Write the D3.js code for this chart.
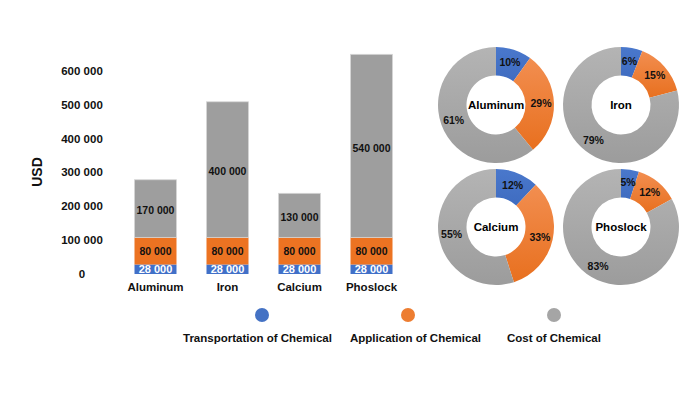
<!DOCTYPE html>
<html>
<head>
<meta charset="utf-8">
<script src="https://cdn.jsdelivr.net/npm/d3@7"></script>
<style>
  body { margin: 0; background: #fff; }
  text { font-family: "Liberation Sans", Arial, sans-serif; font-weight: bold; }
</style>
</head>
<body>
<div id="chart"></div>
<script>
const materials = ["Aluminum", "Iron", "Calcium", "Phoslock"];
const transportCost = [28000, 28000, 28000, 28000];
const applicationCost = [80000, 80000, 80000, 80000];
const chemicalCost = [170000, 400000, 130000, 540000];
const yTicks = [0, 100000, 200000, 300000, 400000, 500000, 600000];

const transportPct = [10, 6, 12, 5];
const applicationPct = [29, 15, 33, 12];
const chemicalPct = [61, 79, 55, 83];

const seriesNames = ["Transportation of Chemical", "Application of Chemical", "Cost of Chemical"];
const seriesColors = ["#4472C4", "#ED7D31", "#A5A5A5"];

const width = 700, height = 393;

const svg = d3.select("#chart")
  .append("svg")
  .attr("width", width)
  .attr("height", height);

const fmt = v => d3.format(",")(v).replace(/,/g, " ");

// =========================
// STACKED BARS
// =========================
const rows = materials.map((m, i) => ({
  material: m,
  transport: transportCost[i],
  application: applicationCost[i],
  chemical: chemicalCost[i]
}));
const keys = ["transport", "application", "chemical"];
const stacked = d3.stack().keys(keys)(rows);

const x = d3.scaleBand()
  .domain(materials)
  .range([119.5, 407.5])
  .paddingInner(0.4167)
  .paddingOuter(0.2083);

const y = d3.scaleLinear()
  .domain([0, 600000])
  .range([274, 70.6]);

const barFill = ["#4170C8", "#EC7322", "#9E9E9E"];

const bars = svg.append("g");
stacked.forEach((layer, li) => {
  bars.append("g")
    .selectAll("rect")
    .data(layer)
    .join("rect")
    .attr("x", d => x(d.data.material))
    .attr("y", d => y(d[1]))
    .attr("width", x.bandwidth())
    .attr("height", d => y(d[0]) - y(d[1]))
    .attr("fill", barFill[li])
    .attr("stroke", li === 2 ? "#d6d6d6" : "none")
    .attr("stroke-width", 0.8);
});

stacked.forEach((layer, li) => {
  bars.append("g")
    .selectAll("text")
    .data(layer)
    .join("text")
    .attr("x", d => x(d.data.material) + x.bandwidth() / 2)
    .attr("y", d => (y(d[0]) + y(d[1])) / 2 + (li === 2 ? 2 : 0))
    .attr("dy", "0.36em")
    .attr("text-anchor", "middle")
    .style("font-size", li === 0 ? "11px" : "10.5px")
    .style("fill", li === 0 ? "#fff" : "#111")
    .text(d => fmt(d[1] - d[0]));
});

// =========================
// AXES
// =========================
svg.append("g")
  .selectAll("text")
  .data(yTicks)
  .join("text")
  .attr("x", 82)
  .attr("y", d => y(d))
  .attr("dy", "0.36em")
  .attr("text-anchor", "middle")
  .style("font-size", "11.5px")
  .style("fill", "#111")
  .text(d => fmt(d));

svg.append("g")
  .selectAll("text")
  .data(materials)
  .join("text")
  .attr("x", d => x(d) + x.bandwidth() / 2)
  .attr("y", 287)
  .attr("dy", "0.36em")
  .attr("text-anchor", "middle")
  .style("font-size", "11.5px")
  .style("fill", "#111")
  .text(d => d);

svg.append("text")
  .attr("transform", "translate(37,172) rotate(-90)")
  .attr("dy", "0.36em")
  .attr("text-anchor", "middle")
  .style("font-size", "14px")
  .style("fill", "#111")
  .text("USD");

// =========================
// DONUTS
// =========================
const defs = svg.append("defs");
const gradStops = [
  ["#4a78cc", "#3f6cc0"],
  ["#F28E50", "#E8701F"],
  ["#B4B4B4", "#9C9C9C"]
];
gradStops.forEach((g, i) => {
  const grad = defs.append("linearGradient")
    .attr("id", "ring-grad-" + i)
    .attr("x1", 0).attr("y1", 0).attr("x2", 0).attr("y2", 1);
  grad.append("stop").attr("offset", "0%").attr("stop-color", g[0]);
  grad.append("stop").attr("offset", "100%").attr("stop-color", g[1]);
});

const pie = d3.pie().sort(null).value(d => d.pct);
const arc = d3.arc().innerRadius(29.5).outerRadius(58);
const labelArc = d3.arc().innerRadius(45).outerRadius(45);

const donutX = d3.scalePoint().domain([0, 1]).range([496, 621]);
const donutY = d3.scalePoint().domain([0, 1]).range([105, 227]);

materials.forEach((m, i) => {
  const slices = pie([
    { key: 0, pct: transportPct[i] },
    { key: 1, pct: applicationPct[i] },
    { key: 2, pct: chemicalPct[i] }
  ]);

  const g = svg.append("g")
    .attr("transform", `translate(${donutX(i % 2)},${donutY(Math.floor(i / 2))})`);

  g.selectAll("path")
    .data(slices)
    .join("path")
    .attr("d", arc)
    .attr("fill", d => `url(#ring-grad-${d.data.key})`);

  g.selectAll("text.pct")
    .data(slices)
    .join("text")
    .attr("class", "pct")
    .attr("transform", d => `translate(${labelArc.centroid(d)})`)
    .attr("dy", "0.36em")
    .attr("text-anchor", "middle")
    .style("font-size", "10.5px")
    .style("fill", "#111")
    .text(d => d.data.pct + "%");

  g.append("text")
    .attr("dy", "0.36em")
    .attr("text-anchor", "middle")
    .style("font-size", "11.5px")
    .style("fill", "#000")
    .text(m);
});

// =========================
// LEGEND
// =========================
const legendDotX = [262, 408, 554];
const legendTextX = [183, 350, 507];

const legend = svg.append("g");
legend.selectAll("circle")
  .data(seriesNames)
  .join("circle")
  .attr("cx", (d, i) => legendDotX[i])
  .attr("cy", 315)
  .attr("r", 7)
  .attr("fill", (d, i) => seriesColors[i]);

legend.selectAll("text")
  .data(seriesNames)
  .join("text")
  .attr("x", (d, i) => legendTextX[i])
  .attr("y", 338)
  .attr("dy", "0.36em")
  .style("font-size", "11.5px")
  .style("fill", "#111")
  .text(d => d);
</script>
</body>
</html>
